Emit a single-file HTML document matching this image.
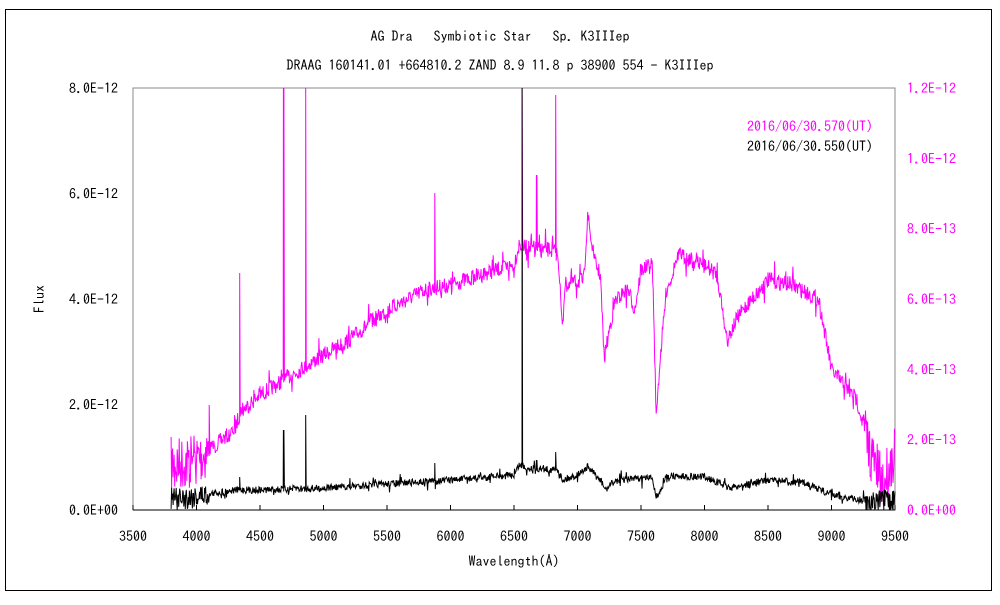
<!DOCTYPE html>
<html><head><meta charset="utf-8"><style>
body{margin:0;background:#fff;}
svg text{font-family:"IPAGothic","Liberation Sans",sans-serif;font-size:14px;}
</style></head><body>
<svg id="s" width="1000" height="600" xmlns="http://www.w3.org/2000/svg">
<rect x="0" y="0" width="1000" height="600" fill="#fff"/>
<rect x="5.5" y="9.5" width="986" height="581" fill="none" stroke="#000" stroke-width="1"/>
<text x="500" y="41" text-anchor="middle">AG Dra　 Symbiotic Star　 Sp. K3IIIep</text>
<text x="500" y="70" text-anchor="middle">DRAAG 160141.01 +664810.2 ZAND 8.9 11.8 p 38900 554 - K3IIIep</text>
<rect x="133" y="88" width="762" height="422" fill="none" stroke="#888" stroke-width="1"/>
<line x1="133" y1="510" x2="895" y2="510" stroke="#000"/>
<g id="ticks" stroke="#000"></g>
<g id="lbl"></g>
<text x="44" y="299" text-anchor="middle" transform="rotate(-90 44 299)">Flux</text>
<text x="514" y="566" text-anchor="middle">Wavelength(Å)</text>
<text x="873" y="131" text-anchor="end" fill="#ff00ff">2016/06/30.570(UT)</text>
<text x="873" y="151" text-anchor="end">2016/06/30.550(UT)</text>
<polyline id="m" fill="none" stroke="#ff00ff" stroke-width="1"/>
<polyline id="b" fill="none" stroke="#000" stroke-width="1"/>
</svg>
<script>
var NS="http://www.w3.org/2000/svg";
function X(w){return 133+(w-3500)/500*63.5;}
var t=document.getElementById('ticks'),l=document.getElementById('lbl');
function add(p,tag,a,txt){var e=document.createElementNS(NS,tag);for(var k in a)e.setAttribute(k,a[k]);if(txt)e.textContent=txt;p.appendChild(e);}
for(var w=3500;w<=9500;w+=500){var x=X(w);add(t,'line',{x1:x,y1:510,x2:x,y2:505});add(l,'text',{x:x,y:541,'text-anchor':'middle'},String(w));}
var L=["0.0E+00","2.0E-12","4.0E-12","6.0E-12","8.0E-12"];
for(var i=0;i<5;i++){var y=510-i*105.5;add(l,'text',{x:118,y:y+5,'text-anchor':'end'},L[i]);}
var R=["0.0E+00","2.0E-13","4.0E-13","6.0E-13","8.0E-13","1.0E-12","1.2E-12"];
for(var i=0;i<7;i++){var y=510-i*70.33;add(l,'text',{x:907,y:y+5,fill:'#ff00ff'},R[i]);}
var seed=7;function rnd(){seed=(seed*16807)%2147483647;return seed/2147483647-0.5;}
function interp(k,w){for(var i=0;i<k.length-1;i++){if(w>=k[i][0]&&w<=k[i+1][0]){var f=(w-k[i][0])/(k[i+1][0]-k[i][0]);return k[i][1]+f*(k[i+1][1]-k[i][1]);}}return k[k.length-1][1];}
var mk=[[3800,465],[4000,460],[4100,450],[4300,430],[4345,412],[4500,395],[5000,355],[5200,340],[5500,310],[5800,290],[6000,285],[6300,272],[6500,265],[6540,245],[6600,248],[6800,250],[6850,255],[6880,330],[6900,285],[7050,280],[7080,215],[7130,260],[7180,275],[7210,360],[7250,330],[7300,300],[7400,290],[7450,310],[7500,270],[7590,265],[7620,415],[7650,360],[7700,290],[7800,255],[8000,265],[8100,275],[8180,340],[8250,320],[8300,310],[8500,280],[8700,285],[8900,300],[9000,370],[9200,400],[9300,450],[9400,485],[9500,450]];
var ms=[[4101,405],[4340,273],[4686,88],[4861,88],[5876,193],[6563,88],[6678,175],[6827,95],[7080,212]];
var bk=[[3800,500],[4000,496],[4300,490],[4500,490],[5000,488],[5500,484],[6000,480],[6500,475],[6540,465],[6600,468],[6850,470],[6880,480],[7000,475],[7080,467],[7190,482],[7220,490],[7300,480],[7590,478],[7620,497],[7660,490],[7700,476],[8000,477],[8100,482],[8200,488],[8500,480],[8800,483],[9000,495],[9300,502],[9500,502]];
var bs=[[4340,477],[4686,430],[4861,415],[5876,463],[6563,88],[6678,460],[6827,452]];
function build(k,sp,amp,id){var pts=[];for(var w=3800;w<=9500;w+=4){var y=interp(k,w);var a=amp;if(w<4100||w>9250)a*=3.5;y+=rnd()*a+(Math.random()<0.08?rnd()*amp*2:0);for(var j=0;j<sp.length;j++){if(Math.abs(w-sp[j][0])<2.5){pts.push(X(w-1).toFixed(1)+','+y.toFixed(1));y=sp[j][1];}}y=Math.min(510,Math.max(88,y));pts.push(X(w).toFixed(1)+','+y.toFixed(1));}
document.getElementById(id).setAttribute('points',pts.join(' '));}
build(mk,ms,16,'m');build(bk,bs,7,'b');
</script>
</body></html>
